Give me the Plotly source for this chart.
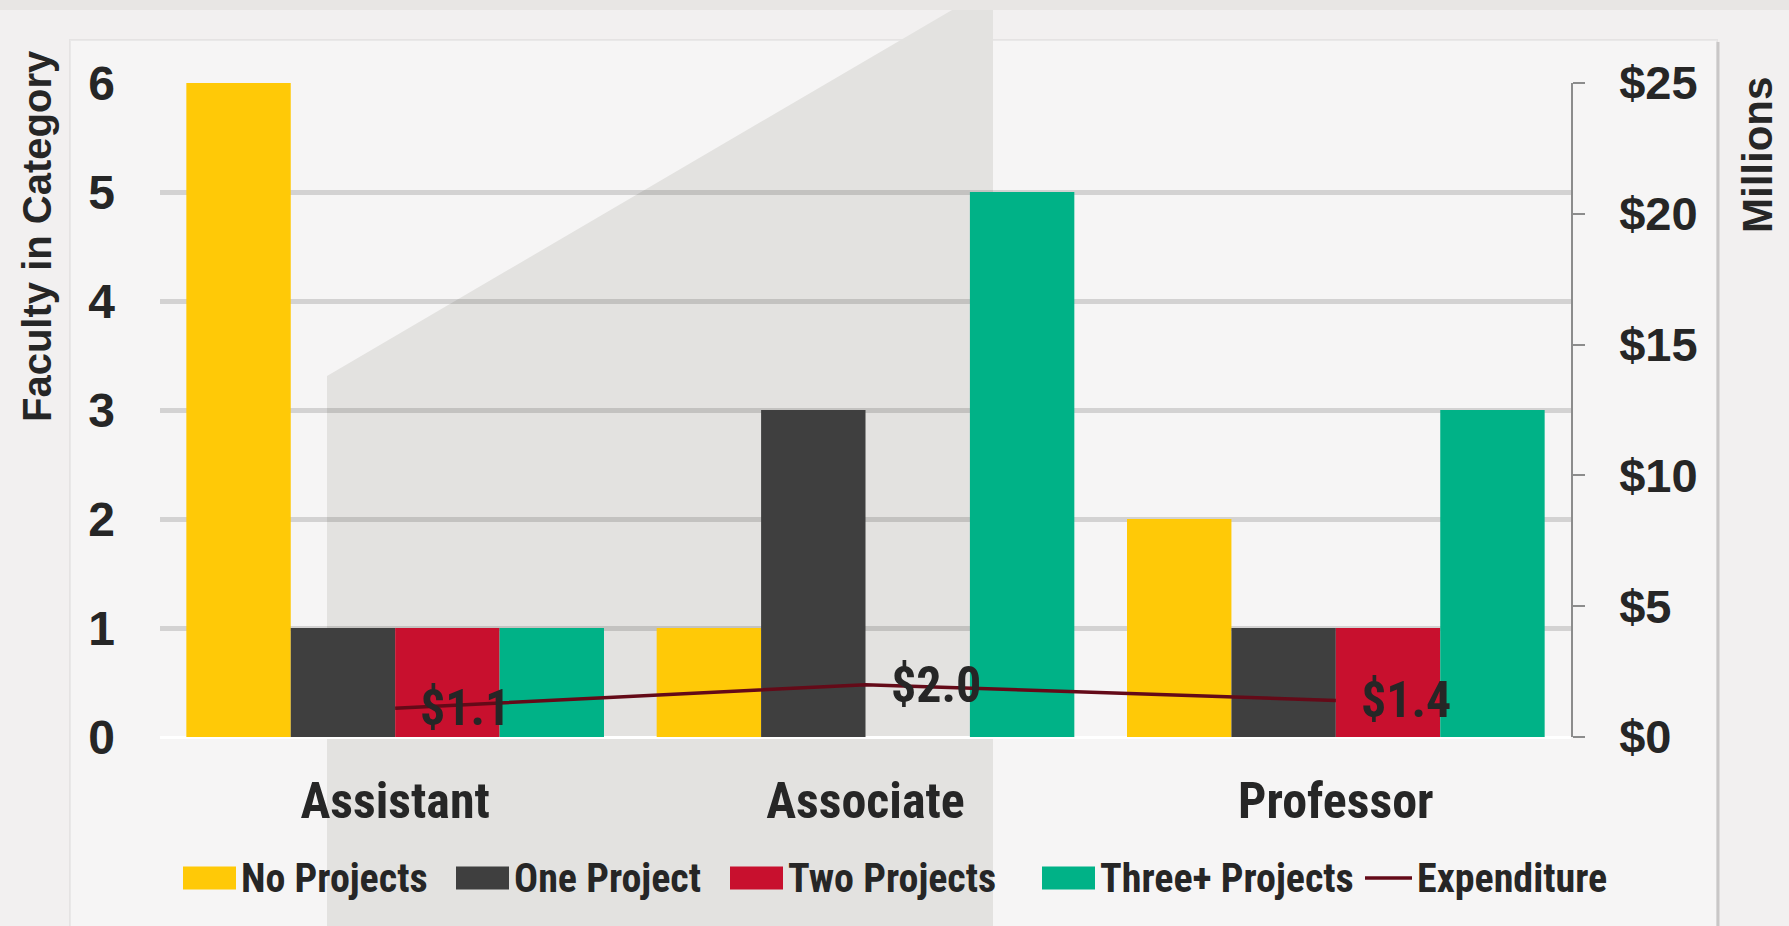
import plotly.graph_objects as go

# ---------------- data ----------------
categories = ["Assistant", "Associate", "Professor"]
no_projects = [6, 1, 2]
one_project = [1, 3, 1]
two_projects = [1, 0, 1]
three_plus_projects = [1, 5, 3]
expenditure_millions = [1.1, 2.0, 1.4]

series_names = ["No Projects", "One Project", "Two Projects", "Three+ Projects"]
series_values = [no_projects, one_project, two_projects, three_plus_projects]
series_colors = ["#FFC907", "#3F3F3F", "#C8102E", "#00B287"]
line_name = "Expenditure"
line_color = "#640A18"

left_ticks = [0, 1, 2, 3, 4, 5, 6]
right_ticks = [0, 5, 10, 15, 20, 25]
right_tick_text = [f"${v}" for v in right_ticks]

# ---------------- geometry (pixels) ----------------
W, H = 1789, 926
L, R, T, B = 160, 1571, 83, 737
PW, PH = R - L, B - T


def px(x):
    return (x - L) / PW


def py(y):
    return (B - y) / PH


TXT = "#262626"
COND = "Roboto Condensed, Roboto, sans-serif"
SANS = "Liberation Sans, Arial, sans-serif"

fig = go.Figure()
for name, vals, col in zip(series_names, series_values, series_colors):
    fig.add_trace(go.Bar(x=categories, y=vals, name=name, marker_color=col,
                         marker_line_width=0, showlegend=False))

fig.add_trace(go.Scatter(x=categories, y=expenditure_millions, name=line_name,
                         yaxis="y2", mode="lines",
                         line=dict(color=line_color, width=3.5), showlegend=False))

shapes = []
# panel
shapes.append(dict(type="rect", xref="paper", yref="paper", layer="below",
                   x0=px(70), x1=px(1717), y0=py(40), y1=py(940),
                   fillcolor="#F6F5F5", line=dict(color="rgba(0,0,0,0.05)", width=2)))
shapes.append(dict(type="line", xref="paper", yref="paper", layer="below",
                   x0=px(1718), x1=px(1718), y0=py(42), y1=py(940),
                   line=dict(color="#C9C7C7", width=3)))
# big light-gray decorative polygon
shapes.append(dict(type="path", xref="paper", yref="paper", layer="below",
                   path=(f"M {px(327)},{py(940)} L {px(327)},{py(376)} "
                         f"L {px(952)},{py(10)} L {px(993)},{py(10)} "
                         f"L {px(993)},{py(940)} Z"),
                   fillcolor="#E3E2E0", line=dict(width=0)))
# top band
shapes.append(dict(type="rect", xref="paper", yref="paper", layer="below",
                   x0=px(-10), x1=px(1800), y0=py(10), y1=py(-10),
                   fillcolor="#E8E6E4", line=dict(width=0)))

annotations = []
# data labels for expenditure
for c, v in zip(categories, expenditure_millions):
    annotations.append(dict(x=c, y=v, xref="x", yref="y2", text=f"${v:.1f}",
                            showarrow=False, xanchor="left", yanchor="middle",
                            xshift=23, font=dict(family=COND, size=50, color=TXT,
                                                 weight=700)))

# axis titles
annotations.append(dict(x=px(37), y=py(236), xref="paper", yref="paper",
                        text="Faculty in Category", textangle=-90, showarrow=False,
                        xanchor="center", yanchor="middle",
                        font=dict(family=SANS, size=40, color=TXT, weight=700)))
annotations.append(dict(x=px(1757), y=py(155), xref="paper", yref="paper",
                        text="Millions", textangle=-90, showarrow=False,
                        xanchor="center", yanchor="middle",
                        font=dict(family=SANS, size=42, color=TXT, weight=700)))

# custom legend
leg_y = 878
swatch_x = [183, 456, 730, 1042]
for name, col, sx in zip(series_names, series_colors, swatch_x):
    shapes.append(dict(type="rect", xref="paper", yref="paper",
                       x0=px(sx), x1=px(sx + 53), y0=py(leg_y + 11.5), y1=py(leg_y - 11.5),
                       fillcolor=col, line=dict(width=0)))
    annotations.append(dict(x=px(sx + 56), y=py(leg_y), xref="paper", yref="paper",
                            text=name, showarrow=False, xanchor="left", yanchor="middle",
                            font=dict(family=COND, size=40, color=TXT, weight=700)))
shapes.append(dict(type="line", xref="paper", yref="paper",
                   x0=px(1365), x1=px(1412), y0=py(leg_y), y1=py(leg_y),
                   line=dict(color=line_color, width=3.5)))
annotations.append(dict(x=px(1415), y=py(leg_y), xref="paper", yref="paper",
                        text=line_name, showarrow=False, xanchor="left", yanchor="middle",
                        font=dict(family=COND, size=40, color=TXT, weight=700)))

fig.update_layout(
    width=W, height=H,
    margin=dict(l=L, r=W - R, t=T, b=H - B, pad=0),
    paper_bgcolor="#F2F0F0",
    plot_bgcolor="rgba(0,0,0,0)",
    barmode="group", bargap=0.112, bargroupgap=0,
    showlegend=False,
    shapes=shapes,
    annotations=annotations,
    xaxis=dict(type="category", showgrid=False, showline=False, ticks="",
               zeroline=False, ticklabelstandoff=30,
               tickfont=dict(family=COND, size=50, color=TXT, weight=700)),
    yaxis=dict(range=[0, 6], tickvals=left_ticks, showgrid=True,
               gridcolor="rgba(0,0,0,0.14)", gridwidth=5,
               zeroline=True, zerolinecolor="#FFFFFF", zerolinewidth=3,
               showline=False, ticks="", ticklabelstandoff=44,
               tickfont=dict(family=SANS, size=48, color=TXT, weight=700)),
    yaxis2=dict(range=[0, 25], tickvals=right_ticks, ticktext=right_tick_text,
                overlaying="y", side="right", showgrid=False, zeroline=False,
                showline=True, linecolor="#8C8C8C", linewidth=1.5,
                ticks="outside", ticklen=12, tickcolor="#8C8C8C", tickwidth=1.5,
                ticklabelstandoff=25,
                tickfont=dict(family=SANS, size=47, color=TXT, weight=700)),
)

fig.write_html(
    "out.html",
    config={"displayModeBar": False},
    post_script=("document.body.style.margin='0';"
                 "document.body.style.overflow='hidden';"
                 "document.body.style.background='#F2F0F0';"),
)
